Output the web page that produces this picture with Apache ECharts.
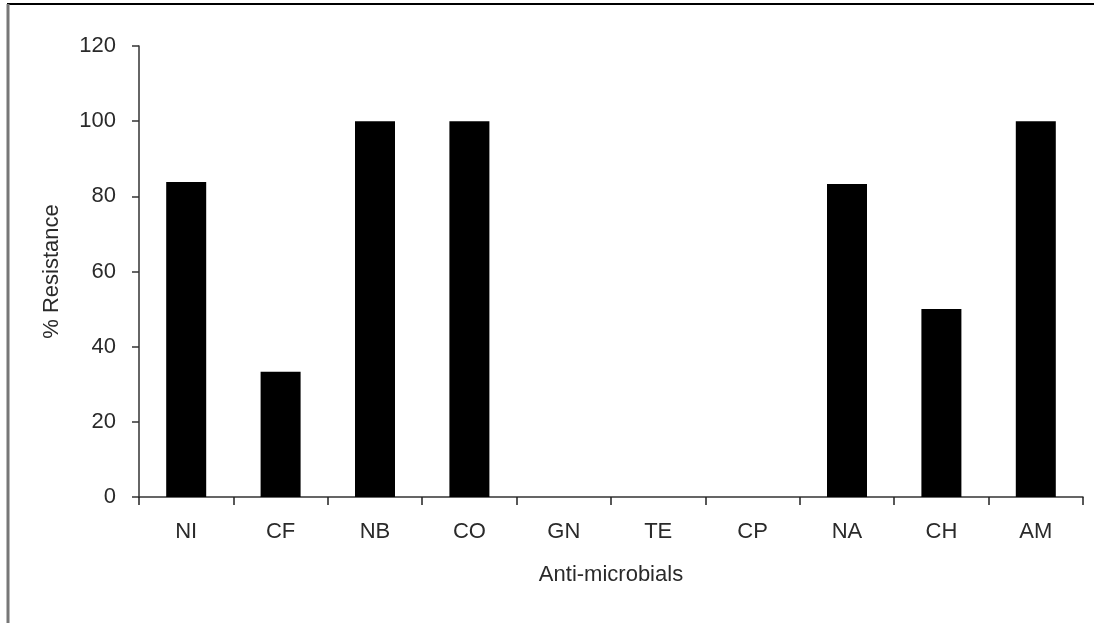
<!DOCTYPE html>
<html>
<head>
<meta charset="utf-8">
<script src="https://cdn.jsdelivr.net/npm/echarts@6/dist/echarts.min.js"></script>
<style>
html,body{margin:0;padding:0;background:#fff;}
#c{width:1094px;height:623px;}
</style>
</head>
<body>
<div id="c"></div>
<script>
var categories = ['NI','CF','NB','CO','GN','TE','CP','NA','CH','AM'];
var resistance = [83.8, 33.3, 100, 100, 0, 0, 0, 83.3, 50, 100];
var yTicks = [0, 20, 40, 60, 80, 100, 120];

var chart = echarts.init(document.getElementById('c'), null, {renderer:'canvas'});
chart.setOption({
  backgroundColor: '#fff',
  animation: false,
  textStyle: {fontFamily: 'Liberation Sans, Arial, sans-serif'},
  grid: {left: 139, right: 11, top: 46, bottom: 126, containLabel: false},
  graphic: [
    {type:'line', shape:{x1:7, y1:4, x2:1094, y2:4}, style:{stroke:'#000', lineWidth:2}},
    {type:'line', shape:{x1:8, y1:4, x2:8, y2:623}, style:{stroke:'#777', lineWidth:3}}
  ],
  xAxis: {
    type: 'category',
    data: categories,
    name: 'Anti-microbials',
    nameLocation: 'middle',
    nameGap: 67,
    nameTextStyle: {fontSize: 22, color: '#2a2a2a'},
    axisLine: {lineStyle: {color: '#333', width: 1.5}},
    axisTick: {show: true, alignWithLabel: false, length: 8, lineStyle: {color: '#222', width: 1.5}},
    axisLabel: {fontSize: 22, color: '#2a2a2a', margin: 24},
    splitLine: {show: false}
  },
  yAxis: {
    type: 'value',
    min: yTicks[0],
    max: yTicks[yTicks.length - 1],
    interval: 20,
    name: '% Resistance',
    nameLocation: 'middle',
    nameGap: 76,
    nameRotate: 90,
    nameTextStyle: {fontSize: 22, color: '#2a2a2a'},
    axisLine: {show: true, lineStyle: {color: '#333', width: 1.5}},
    axisTick: {show: true, length: 7, lineStyle: {color: '#333', width: 1.5}},
    axisLabel: {fontSize: 22, color: '#2a2a2a', margin: 23},
    splitLine: {show: false}
  },
  series: [{
    type: 'bar',
    data: resistance,
    barWidth: 40,
    itemStyle: {color: '#000'}
  }]
});
</script>
</body>
</html>
